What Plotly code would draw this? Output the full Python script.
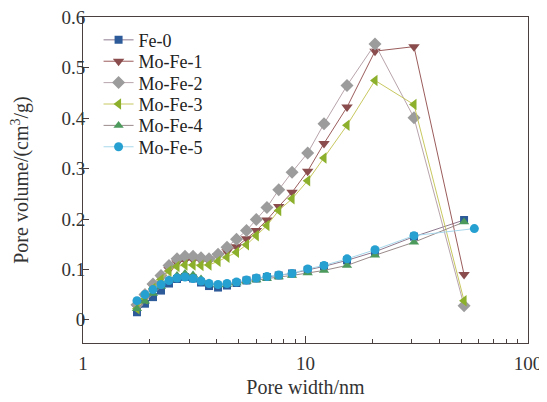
import plotly.graph_objects as go

# Pore width grid (nm)
pore_width = [1.748, 1.899, 2.063, 2.242, 2.435, 2.646, 2.874, 3.123, 3.392, 3.685,
              4.045, 4.439, 4.897, 5.43, 6.01, 6.71, 7.58, 8.70, 10.23, 12.11,
              15.37, 20.53, 30.73, 51.6]
pore_width_fe5 = pore_width[:-1] + [57.4]

fe0 = [0.015, 0.032, 0.045, 0.058, 0.072, 0.081, 0.085, 0.082, 0.074, 0.067,
       0.064, 0.068, 0.073, 0.078, 0.082, 0.085, 0.088, 0.092, 0.099, 0.106,
       0.118, 0.135, 0.165, 0.198]
mofe1 = [0.025, 0.045, 0.066, 0.083, 0.100, 0.113, 0.118, 0.119, 0.117, 0.116,
         0.127, 0.135, 0.145, 0.161, 0.177, 0.198, 0.225, 0.253, 0.295, 0.350,
         0.422, 0.533, 0.542, 0.090]
mofe2 = [0.030, 0.050, 0.071, 0.088, 0.108, 0.121, 0.126, 0.126, 0.123, 0.121,
         0.130, 0.144, 0.160, 0.177, 0.199, 0.223, 0.258, 0.293, 0.331, 0.389,
         0.465, 0.547, 0.401, 0.028]
mofe3 = [0.022, 0.042, 0.062, 0.080, 0.097, 0.106, 0.109, 0.109, 0.108, 0.109,
         0.116, 0.124, 0.134, 0.149, 0.167, 0.187, 0.217, 0.240, 0.276, 0.321,
         0.386, 0.475, 0.427, 0.038]
mofe4 = [0.022, 0.037, 0.052, 0.066, 0.080, 0.088, 0.092, 0.089, 0.081, 0.073,
         0.069, 0.070, 0.073, 0.076, 0.079, 0.082, 0.085, 0.088, 0.093, 0.098,
         0.108, 0.128, 0.154, 0.194]
mofe5 = [0.038, 0.050, 0.060, 0.070, 0.078, 0.083, 0.085, 0.082, 0.077, 0.072,
         0.070, 0.072, 0.075, 0.079, 0.083, 0.086, 0.089, 0.092, 0.101, 0.108,
         0.121, 0.139, 0.167, 0.181]

series_names = ["Fe-0", "Mo-Fe-1", "Mo-Fe-2", "Mo-Fe-3", "Mo-Fe-4", "Mo-Fe-5"]
series_x = [pore_width, pore_width, pore_width, pore_width, pore_width, pore_width_fe5]
series_y = [fe0, mofe1, mofe2, mofe3, mofe4, mofe5]

symbols = ["square", "triangle-down", "diamond", "triangle-left", "triangle-up", "circle"]
sizes = [8, 10, 10, 10, 9, 9]
marker_colors = ["#2d5b9a", "#8a4c4c", "#9c9c9c", "#8cb02c", "#4c9a5c", "#26a0d0"]
line_colors = ["#8f7a90", "#9b5c5c", "#b8a4ac", "#c8c860", "#9a8a8a", "#a8d8ec"]

font_family = "Liberation Serif"
legend_ids = ["legend2", "legend3", "legend4", "legend5", "legend6", "legend7"]

fig = go.Figure()
for i, name in enumerate(series_names):
    fig.add_trace(go.Scatter(
        x=series_x[i], y=series_y[i], name=name, mode="lines+markers",
        line=dict(color=line_colors[i], width=1),
        marker=dict(symbol=symbols[i], size=sizes[i], color=marker_colors[i], line=dict(width=0)),
        legend=legend_ids[i],
    ))

# legend rows (one single-entry legend per series, stacked like the original)
row_top = 0.929
row_step = 0.0656
legend_layout = {}
for i, lid in enumerate(legend_ids):
    legend_layout[lid] = dict(
        x=0.035, y=row_top - i * row_step, xanchor="left", yanchor="middle",
        bgcolor="rgba(0,0,0,0)", borderwidth=0,
        font=dict(size=18, family=font_family, color="#222222"),
    )

fig.update_layout(
    width=539, height=394,
    margin=dict(l=75, r=19, t=9, b=59),
    paper_bgcolor="white", plot_bgcolor="white",
    font=dict(family=font_family, size=19, color="#333333"),
    showlegend=True,
    **legend_layout,
)
fig.update_xaxes(
    type="log", range=[0, 2],
    showline=True, linecolor="#4a4040", linewidth=1, mirror=True,
    ticks="inside", ticklen=7, tickwidth=1, tickcolor="#4a4040",
    tickvals=[1, 10, 100], ticktext=["1", "10", "100"],
    minor=dict(ticks="inside", ticklen=4, tickwidth=1, tickcolor="#4a4040",
               tickvals=[2, 3, 4, 5, 6, 7, 8, 9, 20, 30, 40, 50, 60, 70, 80, 90], showgrid=False),
    ticklabelstandoff=3, ticklabeloverflow="allow",
    showgrid=False, zeroline=False,
    tickfont=dict(size=19, family=font_family, color="#333333"),
    title=dict(text="Pore width/nm", font=dict(size=20, family=font_family, color="#333333"), standoff=7),
    automargin=False,
)
fig.update_yaxes(
    range=[-0.046, 0.6008],
    showline=True, linecolor="#4a4040", linewidth=1, mirror=True,
    ticks="inside", ticklen=6, tickwidth=1, tickcolor="#4a4040",
    tickvals=[0, 0.1, 0.2, 0.3, 0.4, 0.5, 0.6],
    ticktext=["0", "0.1", "0.2", "0.3", "0.4", "0.5", "0.6"],
    ticklabelstandoff=-7, ticklabeloverflow="allow",
    showgrid=False, zeroline=False,
    tickfont=dict(size=19, family=font_family, color="#333333"),
    title=dict(text="Pore volume/(cm<sup>3</sup>/g)", font=dict(size=20, family=font_family, color="#333333"), standoff=27),
    automargin=False,
)

fig.write_html("out.html")
